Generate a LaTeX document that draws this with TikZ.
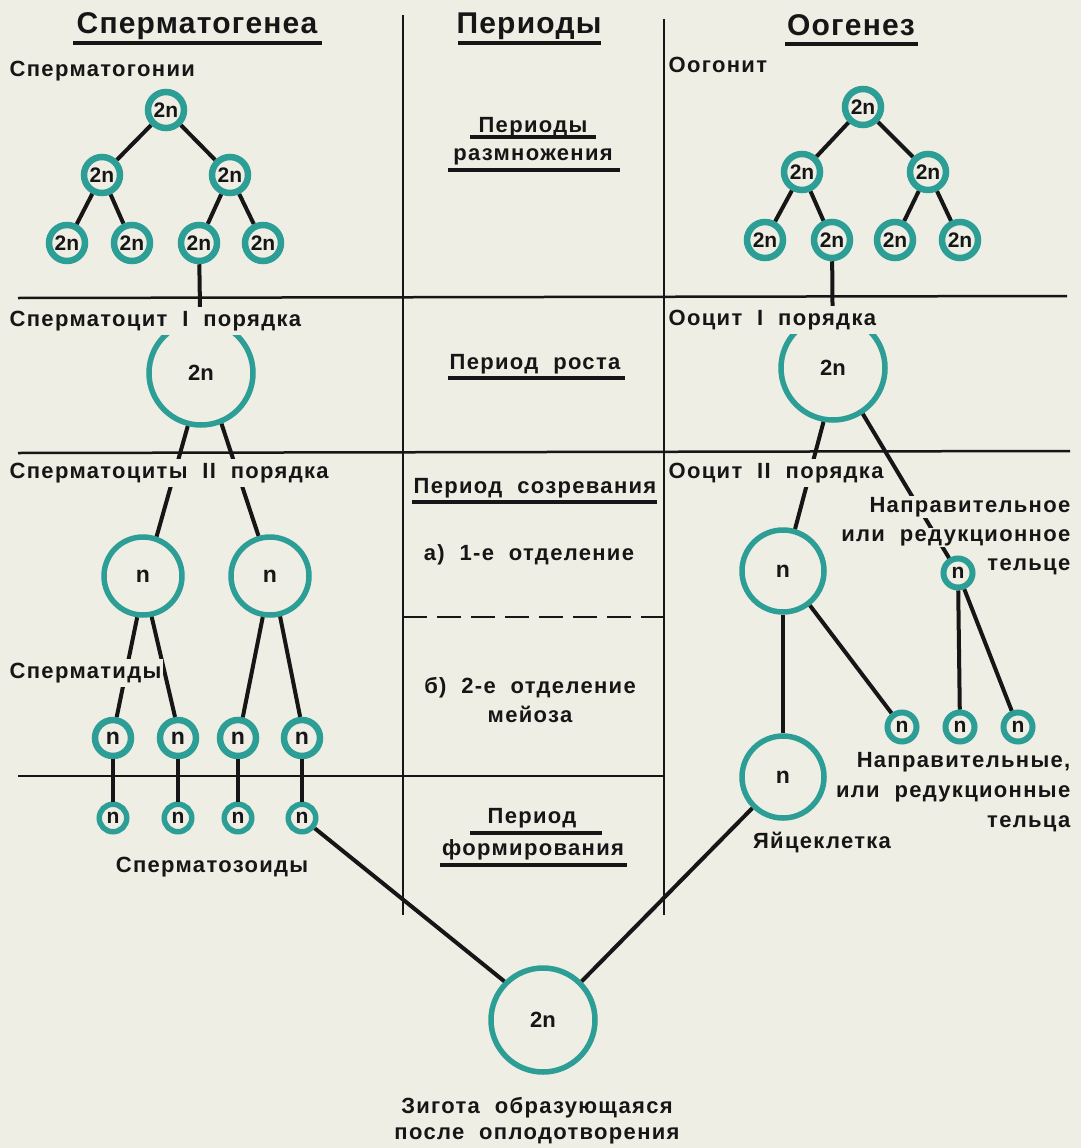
\documentclass[tikz,border=0pt]{standalone}
\usepackage{fontspec}
\setmainfont{Liberation Sans}
\newfontfamily\lab[LetterSpace=6,WordSpace=2]{Liberation Sans}
\newfontfamily\ttlfont[LetterSpace=4]{Liberation Sans}
\definecolor{bg}{HTML}{EEEEE4}
\definecolor{ink}{HTML}{161616}
\definecolor{tl}{HTML}{2C9E96}
\tikzset{
  tbl/.style={line width=2.5pt, draw=ink},
  con/.style={line width=4pt, draw=ink},
  ul/.style={line width=3.5pt, draw=ink},
  lbl/.style={font=\lab\bfseries\fontsize{22}{26}\selectfont, text=ink, fill=bg, inner xsep=1.5pt, inner ysep=4pt},
  mid/.style={font=\lab\bfseries\fontsize{22}{26}\selectfont, text=ink, inner sep=0pt},
  ttl/.style={font=\ttlfont\bfseries\fontsize{30}{34}\selectfont, text=ink, inner sep=0pt},
  cellbase/.style={circle, draw=tl, fill=bg, inner sep=0pt, text=ink},
  gon/.style={cellbase, minimum size=36pt, line width=6.5pt, font=\bfseries\fontsize{21}{21}\selectfont},
  bigc/.style={cellbase, minimum size=104pt, line width=5.5pt, font=\bfseries\fontsize{22}{22}\selectfont},
  ncell/.style={cellbase, minimum size=78pt, line width=5.5pt, font=\bfseries\fontsize{23}{23}\selectfont},
  ncellR/.style={cellbase, minimum size=82pt, line width=5.5pt, font=\bfseries\fontsize{23}{23}\selectfont},
  tid/.style={cellbase, minimum size=36pt, line width=6.5pt, font=\bfseries\fontsize{23}{23}\selectfont},
  zoid/.style={cellbase, minimum size=27.5pt, line width=5.5pt, font=\bfseries\fontsize{21}{21}\selectfont},
  pbody/.style={cellbase, minimum size=29pt, line width=6pt, font=\bfseries\fontsize{21}{21}\selectfont},
}
\begin{document}
\begin{tikzpicture}[x=1pt,y=-1pt]
\fill[bg] (0,0) rectangle (1081,1148);
\useasboundingbox (0,0) rectangle (1081,1148);

% table lines
\draw[tbl] (403,15) -- (403,915);
\draw[tbl] (664,19) -- (664,915);
\draw[tbl] (18,298) -- (1067,296);
\draw[tbl] (18,453) -- (1070,451);
\draw[tbl] (18,776) -- (664,776);
\draw[tbl, dash pattern=on 24pt off 10pt] (403,617) -- (664,617);

% titles
\node[ttl, anchor=base] (tS) at (197,34) {Сперматогенеа};
\node[ttl, anchor=base] (tP) at (529,34) {Периоды};
\node[ttl, anchor=base] (tO) at (851,36) {Оогенез};
\draw[ul, line width=4pt] (73,43) -- (322,43);
\draw[ul, line width=4pt] (458,43) -- (601,43);
\draw[ul, line width=4pt] (785,44) -- (918,44);

% left tree
\node[gon] (sA) at (166,110) {2n};
\node[gon] (sB1) at (102,175) {2n};
\node[gon] (sB2) at (230,175) {2n};
\node[gon] (sC1) at (67,243) {2n};
\node[gon] (sC2) at (132,243) {2n};
\node[gon] (sC3) at (199,243) {2n};
\node[gon] (sC4) at (263,243) {2n};
\node[bigc] (bigL) at (201,373) {2n};
\node[ncell] (nL1) at (143,576) {n};
\node[ncell] (nL2) at (270,576) {n};
\node[tid] (t1) at (113,738) {n};
\node[tid] (t2) at (178,738) {n};
\node[tid] (t3) at (238,738) {n};
\node[tid] (t4) at (302,738) {n};
\node[zoid] (z1) at (113,818) {n};
\node[zoid] (z2) at (178,818) {n};
\node[zoid] (z3) at (238,818) {n};
\node[zoid] (z4) at (302,818) {n};

% right tree
\node[gon] (oA) at (863,107) {2n};
\node[gon] (oB1) at (802,172) {2n};
\node[gon] (oB2) at (928,172) {2n};
\node[gon] (oC1) at (765,240) {2n};
\node[gon] (oC2) at (832,240) {2n};
\node[gon] (oC3) at (895,240) {2n};
\node[gon] (oC4) at (960,240) {2n};
\node[bigc] (bigR) at (833,368) {2n};
\node[ncellR] (oo2) at (783,571) {n};
\node[pbody] (pb0) at (958,573) {n};
\node[pbody] (p1) at (902,727) {n};
\node[pbody] (p2) at (960,727) {n};
\node[pbody] (p3) at (1018,727) {n};
\node[ncellR] (egg) at (783,777) {n};
\node[bigc] (zyg) at (543,1020) {2n};

% connectors left
\draw[con] (sA) -- (sB1);
\draw[con] (sA) -- (sB2);
\draw[con] (sB1) -- (sC1);
\draw[con] (sB1) -- (sC2);
\draw[con] (sB2) -- (sC3);
\draw[con] (sB2) -- (sC4);
\draw[con] (sC3) -- (bigL);
\draw[con] (bigL.-104) -- (nL1.71);
\draw[con] (bigL.-68) -- (nL2.106);
\draw[con] (nL1.-98) -- (t1.80);
\draw[con] (nL1.-78) -- (t2.98);
\draw[con] (nL2.-100) -- (t3.77);
\draw[con] (nL2.-76) -- (t4.95);
\draw[con] (t1) -- (z1);
\draw[con] (t2) -- (z2);
\draw[con] (t3) -- (z3);
\draw[con] (t4) -- (z4);
\draw[con] (z4) -- (zyg.135);

% connectors right
\draw[con] (oA) -- (oB1);
\draw[con] (oA) -- (oB2);
\draw[con] (oB1) -- (oC1);
\draw[con] (oB1) -- (oC2);
\draw[con] (oB2) -- (oC3);
\draw[con] (oB2) -- (oC4);
\draw[con] (oC2) -- (bigR);
\draw[con] (bigR.-100) -- (oo2.74);
\draw[con] (bigR.-57) -- (pb0);
\draw[con] (oo2) -- (egg);
\draw[con] (oo2.-52) -- (p1);
\draw[con] (pb0) -- (p2);
\draw[con] (pb0) -- (p3);
\draw[con] (egg) -- (zyg.45);

% left labels
\node[lbl, anchor=base west] (lSg) at (8,76) {Сперматогонии};
\node[lbl, anchor=base west] (lSc1) at (8,326) {Сперматоцит I порядка};
\node[lbl, anchor=base west] (lSc2) at (8,478) {Сперматоциты II порядка};
\node[lbl, anchor=base west] (lSt) at (8,678) {Сперматиды};
\node[lbl, anchor=base] (lSz) at (212,872) {Сперматозоиды};

% right labels
\node[lbl, anchor=base west] (lOg) at (667,72) {Оогонит};
\node[lbl, anchor=base west] (lOc1) at (667,325) {Ооцит I порядка};
\node[lbl, anchor=base west] (lOc2) at (667,478) {Ооцит II порядка};
\node[lbl, anchor=base east, inner ysep=1pt] (lN1) at (1072,512) {Направительное};
\node[lbl, anchor=base east, inner ysep=1pt] (lN2) at (1072,541) {или редукционное};
\node[lbl, anchor=base east, inner ysep=1pt] (lN3) at (1072,570) {тельце};
\node[lbl, anchor=base east] (lM1) at (1072,767) {Направительные,};
\node[lbl, anchor=base east] (lM2) at (1072,797) {или редукционные};
\node[lbl, anchor=base east] (lM3) at (1072,827) {тельца};
\node[lbl, anchor=base] (lEgg) at (822,848) {Яйцеклетка};
\node[lbl, anchor=base] (lZ1) at (537,1113) {Зигота образующаяся};
\node[lbl, anchor=base] (lZ2) at (537,1139) {после оплодотворения};

% middle column
\node[mid, anchor=base] (m1) at (533,132) {Периоды};
\node[mid, anchor=base] (m2) at (533,160) {размножения};
\node[mid, anchor=base] (m3) at (535,369) {Период роста};
\node[mid, anchor=base] (m4) at (535,493) {Период созревания};
\node[mid, anchor=base] (m5) at (529,560) {а) 1-е отделение};
\node[mid, anchor=base] (m6) at (530,693) {б) 2-е отделение};
\node[mid, anchor=base] (m7) at (530,722) {мейоза};
\node[mid, anchor=base] (m8) at (532,823) {Период};
\node[mid, anchor=base] (m9) at (533,855) {формирования};
\draw[ul] (470,137) -- (596,137);
\draw[ul] (448,170) -- (620,170);
\draw[ul] (448,378) -- (625,378);
\draw[ul] (412,502) -- (657,502);
\draw[ul] (470,833) -- (602,833);
\draw[ul] (440,865) -- (627,865);
\end{tikzpicture}
\end{document}
